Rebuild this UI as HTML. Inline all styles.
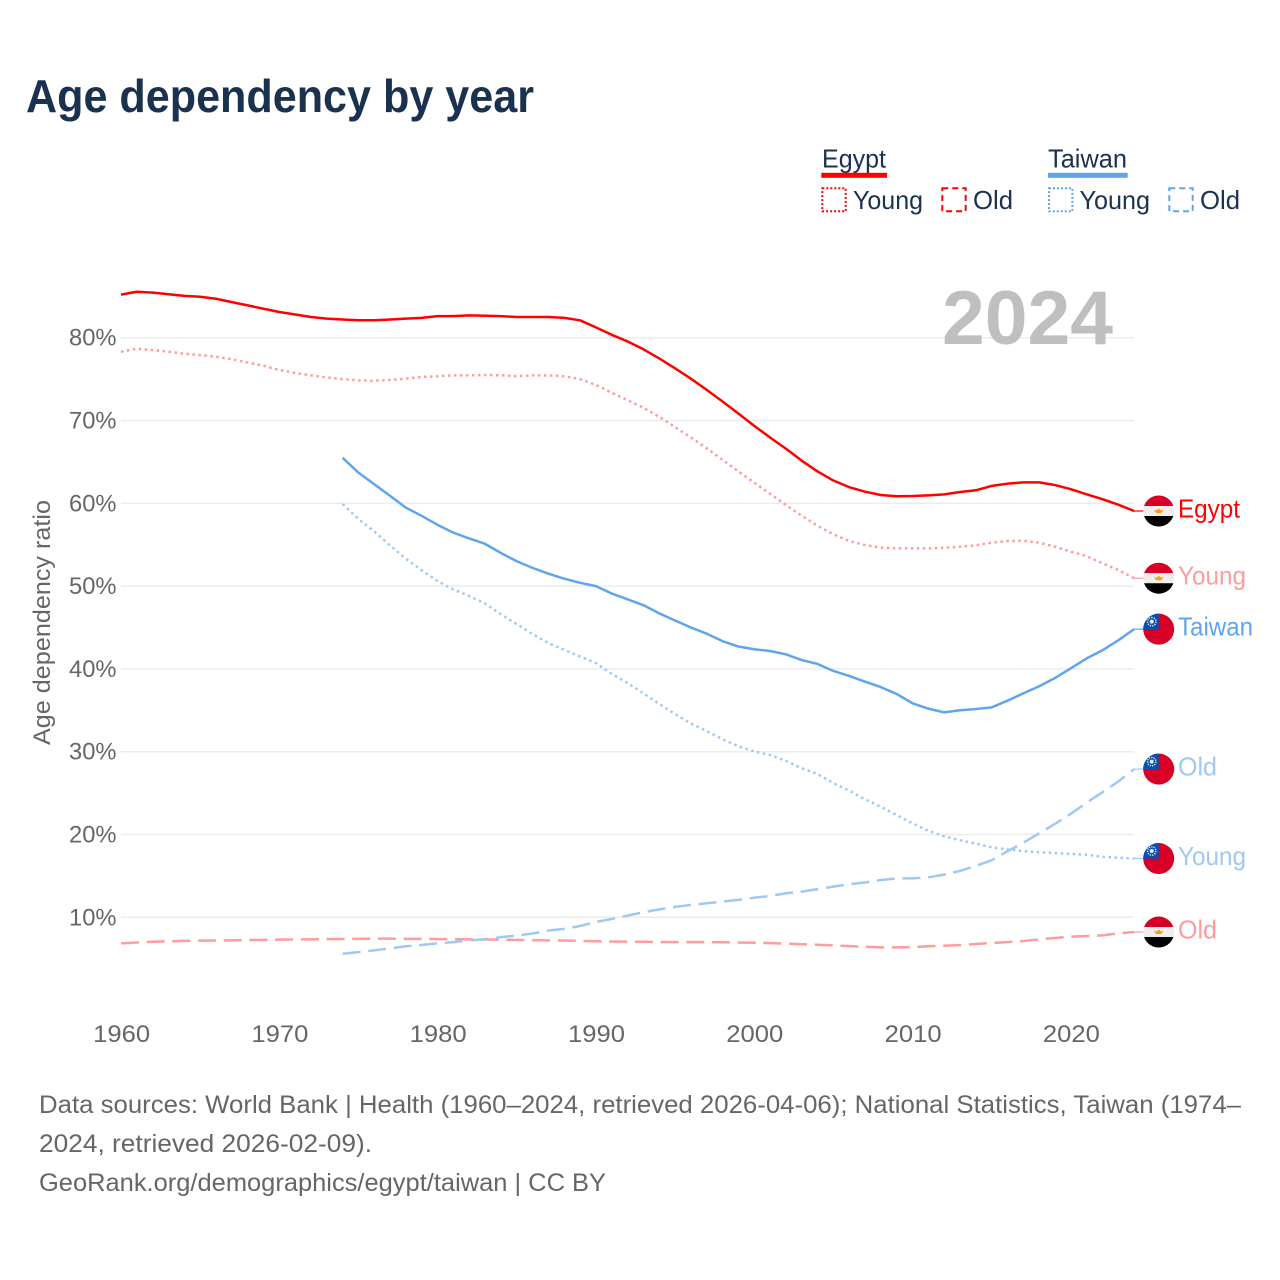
<!DOCTYPE html>
<html lang="en">
<head>
<meta charset="utf-8">
<title>Age dependency by year</title>
<style>
html,body{margin:0;padding:0;background:#fff;width:1280px;height:1280px;overflow:hidden}
svg{display:block;font-family:"Liberation Sans",sans-serif}
</style>
</head>
<body>
<svg id="chart" xmlns="http://www.w3.org/2000/svg" width="1280" height="1280" viewBox="0 0 1280 1280">
  <defs>
    <clipPath id="flag-clip"><circle cx="0" cy="0" r="15.5"></circle></clipPath>
  </defs>
  <rect x="0" y="0" width="1280" height="1280" fill="#ffffff"></rect>
  <text x="26" y="112" font-size="46" font-weight="700" fill="#1a3150" textLength="508" lengthAdjust="spacingAndGlyphs">Age dependency by year</text>

  <g>
    <text x="822" y="167.5" font-size="26" fill="#1a3150" textLength="64" lengthAdjust="spacingAndGlyphs">Egypt</text>
    <rect x="821.3" y="172.8" width="65.7" height="5" fill="#ff0000"></rect>
    <rect x="822.3" y="188.3" width="23.4" height="23" fill="none" stroke="#ff0000" stroke-width="2" stroke-dasharray="2 2"></rect>
    <text x="853" y="209" font-size="26" fill="#1a3150" textLength="70" lengthAdjust="spacingAndGlyphs">Young</text>
    <rect x="942.3" y="188.3" width="23.4" height="23" fill="none" stroke="#ff0000" stroke-width="2" stroke-dasharray="6 4"></rect>
    <text x="973" y="209" font-size="26" fill="#1a3150" textLength="40" lengthAdjust="spacingAndGlyphs">Old</text>

    <text x="1048" y="167.5" font-size="26" fill="#1a3150" textLength="79" lengthAdjust="spacingAndGlyphs">Taiwan</text>
    <rect x="1048" y="172.8" width="79.7" height="5" fill="#60a5eb"></rect>
    <rect x="1049" y="188.3" width="23.4" height="23" fill="none" stroke="#60a5eb" stroke-width="2" stroke-dasharray="2 2"></rect>
    <text x="1079.5" y="209" font-size="26" fill="#1a3150" textLength="70.5" lengthAdjust="spacingAndGlyphs">Young</text>
    <rect x="1169.3" y="188.3" width="23.4" height="23" fill="none" stroke="#60a5eb" stroke-width="2" stroke-dasharray="6 4"></rect>
    <text x="1200" y="209" font-size="26" fill="#1a3150" textLength="40" lengthAdjust="spacingAndGlyphs">Old</text>
  </g>

  <g id="grid"></g>
  <text x="942" y="344" font-size="76" font-weight="700" fill="#bfbfbf" textLength="171" lengthAdjust="spacingAndGlyphs">2024</text>
  <g id="y-ticks"></g>
  <g id="x-ticks"></g>
  <text transform="translate(50,622.5) rotate(-90)" text-anchor="middle" font-size="24.5" fill="#666666" textLength="245" lengthAdjust="spacingAndGlyphs">Age dependency ratio</text>
  <g id="series"></g>
  <g id="ends"></g>

  <g font-size="25" fill="#666666">
    <text x="39" y="1113" textLength="1202" lengthAdjust="spacingAndGlyphs">Data sources: World Bank | Health (1960–2024, retrieved 2026-04-06); National Statistics, Taiwan (1974–</text>
    <text x="39" y="1152" textLength="333" lengthAdjust="spacingAndGlyphs">2024, retrieved 2026-02-09).</text>
    <text x="39" y="1191" textLength="567" lengthAdjust="spacingAndGlyphs">GeoRank.org/demographics/egypt/taiwan | CC BY</text>
  </g>
</svg>
<script>
const egyptYears = [
  1960,1961,1962,1963,1964,1965,1966,1967,1968,1969,
  1970,1971,1972,1973,1974,1975,1976,1977,1978,1979,
  1980,1981,1982,1983,1984,1985,1986,1987,1988,1989,
  1990,1991,1992,1993,1994,1995,1996,1997,1998,1999,
  2000,2001,2002,2003,2004,2005,2006,2007,2008,2009,
  2010,2011,2012,2013,2014,2015,2016,2017,2018,2019,
  2020,2021,2022,2023,2024];
const taiwanYears = [
  1974,1975,1976,1977,1978,1979,
  1980,1981,1982,1983,1984,1985,1986,1987,1988,1989,
  1990,1991,1992,1993,1994,1995,1996,1997,1998,1999,
  2000,2001,2002,2003,2004,2005,2006,2007,2008,2009,
  2010,2011,2012,2013,2014,2015,2016,2017,2018,2019,
  2020,2021,2022,2023,2024];
const egyptTotal = [
  85.2,85.55,85.45,85.25,85.05,84.95,84.7,84.3,83.9,83.5,
  83.1,82.8,82.5,82.3,82.2,82.1,82.1,82.2,82.3,82.4,
  82.6,82.6,82.7,82.65,82.6,82.5,82.5,82.5,82.4,82.1,
  81.25,80.35,79.55,78.6,77.5,76.3,75.05,73.7,72.3,70.85,
  69.35,67.95,66.6,65.15,63.85,62.75,61.95,61.4,61.0,60.85,
  60.88,60.96,61.08,61.36,61.57,62.1,62.37,62.53,62.53,62.2,
  61.7,61.08,60.5,59.83,59.07];
const egyptYoung = [
  78.3,78.67,78.5,78.3,78.07,77.9,77.7,77.4,77.0,76.6,
  76.1,75.75,75.45,75.2,75.0,74.85,74.8,74.9,75.05,75.25,
  75.35,75.45,75.45,75.5,75.45,75.35,75.45,75.45,75.35,75.0,
  74.3,73.35,72.45,71.55,70.45,69.2,67.95,66.65,65.25,63.85,
  62.5,61.15,59.8,58.5,57.3,56.25,55.45,54.95,54.65,54.56,
  54.56,54.56,54.64,54.76,54.92,55.25,55.45,55.48,55.25,54.76,
  54.15,53.63,52.75,51.95,50.95];
const egyptOld = [
  6.85,6.95,7.05,7.1,7.15,7.18,7.2,7.22,7.25,7.27,
  7.3,7.32,7.34,7.36,7.38,7.4,7.42,7.42,7.4,7.4,
  7.38,7.36,7.34,7.32,7.3,7.26,7.24,7.22,7.2,7.15,
  7.1,7.08,7.06,7.04,7.02,7.0,7.0,7.0,6.98,6.96,
  6.93,6.88,6.82,6.75,6.68,6.6,6.52,6.45,6.37,6.37,
  6.4,6.5,6.57,6.65,6.78,6.9,7.0,7.13,7.34,7.5,
  7.66,7.74,7.82,8.06,8.22];
const taiwanTotal = [
  65.5,63.7,62.3,60.9,59.47,58.47,
  57.4,56.45,55.75,55.1,54.0,53.0,52.2,51.5,50.9,50.4,
  50.0,49.1,48.4,47.7,46.7,45.85,45.0,44.25,43.35,42.7,
  42.37,42.16,41.76,41.07,40.6,39.75,39.15,38.45,37.8,36.97,
  35.85,35.2,34.75,35.0,35.15,35.35,36.16,37.05,37.9,38.9,
  40.07,41.27,42.25,43.45,44.8];
const taiwanYoung = [
  59.9,58.1,56.6,54.9,53.3,51.9,
  50.6,49.6,48.8,47.9,46.6,45.4,44.2,43.1,42.3,41.5,
  40.7,39.4,38.3,37.05,35.76,34.55,33.4,32.5,31.5,30.65,
  30.05,29.6,28.9,28.0,27.3,26.2,25.3,24.25,23.35,22.35,
  21.35,20.45,19.8,19.3,18.9,18.45,18.2,18.0,17.85,17.75,
  17.65,17.55,17.3,17.2,17.1];
const taiwanOld = [
  5.6,5.8,6.0,6.25,6.5,6.65,
  6.85,7.0,7.2,7.35,7.6,7.8,8.05,8.4,8.6,8.95,
  9.45,9.8,10.2,10.6,10.96,11.25,11.5,11.7,11.9,12.1,
  12.37,12.57,12.9,13.1,13.4,13.7,14.0,14.2,14.5,14.7,
  14.7,14.83,15.15,15.6,16.2,16.9,17.97,19.0,20.15,21.27,
  22.5,23.85,25.1,26.4,27.9];
const yTickValues = [10,20,30,40,50,60,70,80];
const xTickYears = [1960,1970,1980,1990,2000,2010,2020];

const NS = 'http://www.w3.org/2000/svg';
function xScale(year){ return 121 + (year - 1960) * 15.83; }
function yScale(value){ return 1000.1 - value * 8.28; }
function make(tag, attrs, parent){
  const el = document.createElementNS(NS, tag);
  for (const k in attrs) el.setAttribute(k, attrs[k]);
  parent.appendChild(el);
  return el;
}

const gridGroup = document.getElementById('grid');
const yTickGroup = document.getElementById('y-ticks');
const xTickGroup = document.getElementById('x-ticks');
const seriesGroup = document.getElementById('series');
const endsGroup = document.getElementById('ends');

yTickValues.forEach(function(v){
  const line = make('line', {x1:121, x2:1134, y1:yScale(v), y2:yScale(v), stroke:'#ececec', 'stroke-width':1.5}, gridGroup);
  
  
  const t = make('text', {x:116.5, y:yScale(v)+8, 'text-anchor':'end', 'font-size':24.5, fill:'#666666', textLength:47.5, lengthAdjust:'spacingAndGlyphs'}, yTickGroup);
  t.textContent = v + '%';
  
  
});

xTickYears.forEach(function(y){
  const t = make('text', {x:xScale(y)+0.6, y:1042, 'text-anchor':'middle', 'font-size':24.5, fill:'#666666', textLength:57, lengthAdjust:'spacingAndGlyphs'}, xTickGroup);
  t.textContent = String(y);
  
  
});

function drawSeries(name, years, values, color, dash){
  const d = years.map(function(y, i){
    return (i ? 'L' : 'M') + xScale(y).toFixed(2) + ' ' + yScale(values[i]).toFixed(2);
  }).join(' ');
  const attrs = {d:d, fill:'none', stroke:color, 'stroke-width':2.5, 'stroke-linejoin':'round'};
  if (dash) attrs['stroke-dasharray'] = dash;
  const p = make('path', attrs, seriesGroup);
  
  
}

const RED = '#ff0000', PINK = '#ff9c9c', BLUE = '#60a5eb', SKY = '#a0c9f2';
const DOT = '2.5 3.5', DASH = '18 7.7';
drawSeries('egypt-old', egyptYears, egyptOld, PINK, DASH);
drawSeries('taiwan-old', taiwanYears, taiwanOld, SKY, DASH);
drawSeries('taiwan-young', taiwanYears, taiwanYoung, SKY, DOT);
drawSeries('taiwan-total', taiwanYears, taiwanTotal, BLUE, null);
drawSeries('egypt-young', egyptYears, egyptYoung, PINK, DOT);
drawSeries('egypt-total', egyptYears, egyptTotal, RED, null);

function drawFlag(country, parent){
  const inner = make('g', {'clip-path':'url(#flag-clip)'}, parent);
  if (country === 'egypt') {
    make('rect', {x:-16, y:-16, width:32, height:11, fill:'#d80027'}, inner);
    make('rect', {x:-16, y:-5, width:32, height:10, fill:'#eeeeee'}, inner);
    make('rect', {x:-16, y:5, width:32, height:11, fill:'#000000'}, inner);
    make('path', {d:'M-5 -1.5 L-2 -0.5 L0 -2.5 L2 -0.5 L5 -1.5 L2.5 2 L-2.5 2 Z', fill:'#ff9811'}, inner);
  } else {
    make('rect', {x:-16, y:-16, width:32, height:32, fill:'#d80027'}, inner);
    make('rect', {x:-16, y:-16, width:16, height:16, fill:'#0052b4'}, inner);
    make('circle', {cx:-7, cy:-7.5, r:4.2, fill:'none', stroke:'#f0f0f0', 'stroke-width':1.4, 'stroke-dasharray':'1.3 1.1'}, inner);
    make('circle', {cx:-7, cy:-7.5, r:2, fill:'#f0f0f0'}, inner);
  }
}

function drawEnd(name, label, country, values, color, width){
  const last = values[values.length - 1];
  const yPos = yScale(last);
  const stub = make('line', {x1:1134, x2:1146, y1:yPos, y2:yPos, stroke:color, 'stroke-width':1.2}, endsGroup);
  
  
  const flag = make('g', {transform:'translate(1158.7,' + yPos + ')'}, endsGroup);
  
  
  drawFlag(country, flag);
  const t = make('text', {x:1178, y:yPos + 6.3, 'font-size':26, fill:color, textLength:width, lengthAdjust:'spacingAndGlyphs'}, endsGroup);
  t.textContent = label;
  
  
}

drawEnd('end-egypt-total', 'Egypt', 'egypt', egyptTotal, RED, 62);
drawEnd('end-egypt-young', 'Young', 'egypt', egyptYoung, PINK, 68);
drawEnd('end-taiwan-total', 'Taiwan', 'taiwan', taiwanTotal, BLUE, 75);
drawEnd('end-taiwan-old', 'Old', 'taiwan', taiwanOld, SKY, 39);
drawEnd('end-taiwan-young', 'Young', 'taiwan', taiwanYoung, SKY, 68);
drawEnd('end-egypt-old', 'Old', 'egypt', egyptOld, PINK, 39);
</script>
</body>
</html>
